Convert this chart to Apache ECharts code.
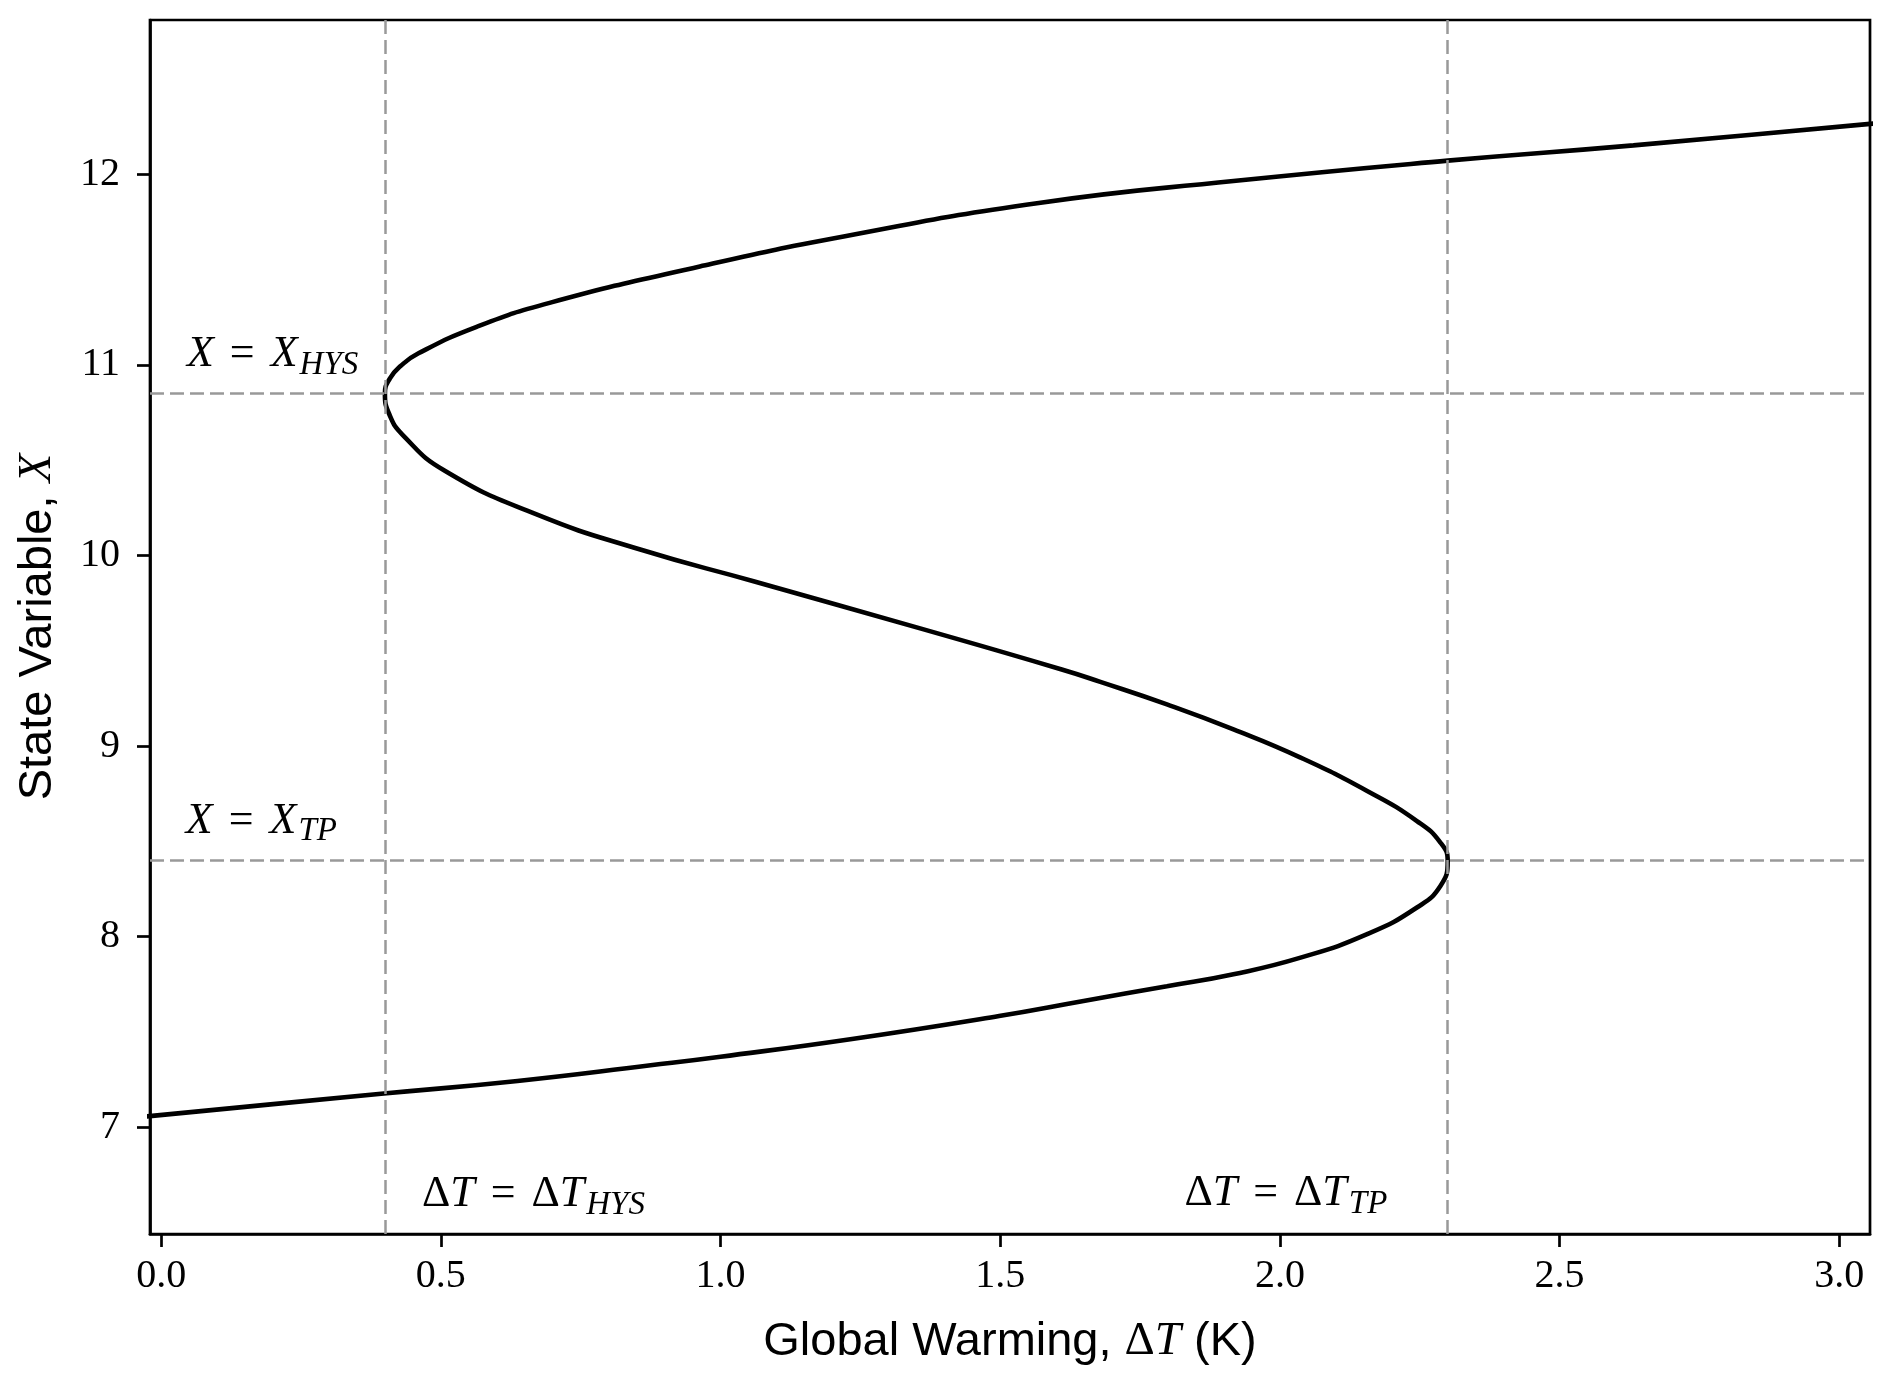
<!DOCTYPE html>
<html>
<head>
<meta charset="utf-8">
<style>
  html, body { margin: 0; padding: 0; background: #fff; }
  #main { width: 1892px; height: 1385px; }
</style>
<script src="https://cdn.jsdelivr.net/npm/echarts@6/dist/echarts.min.js"></script>
</head>
<body>
<div id="main"></div>
<script>
// curve, in order along the fold: global warming (K) and state variable X
var dT = [-0.05, -0.016, 0.398, 0.637, 0.875, 1.0, 1.232, 1.498, 1.649, 1.798, 1.917, 2.037, 2.156, 2.245, 2.287, 2.30,
  2.287, 2.245, 2.156, 2.037, 1.917, 1.798, 1.679, 1.61, 1.36, 1.059, 0.858, 0.67, 0.507, 0.432, 0.408, 0.40,
  0.409, 0.428, 0.46, 0.564, 0.696, 0.963, 1.2225, 1.569, 1.917, 2.3, 2.632, 3.055, 3.1];
var stateX = [7.05, 7.06, 7.177, 7.243, 7.325, 7.37, 7.462, 7.584, 7.663, 7.74, 7.803, 7.89, 8.013, 8.153, 8.266, 8.397,
  8.494, 8.607, 8.765, 8.94, 9.088, 9.219, 9.337, 9.402, 9.615, 9.865, 10.03, 10.217, 10.445, 10.632, 10.74, 10.85,
  10.93, 10.994, 11.061, 11.2, 11.327, 11.517, 11.675, 11.85, 11.965, 12.072, 12.152, 12.265, 12.277];

// dashed guides
var dTMarks = [0.4, 2.3];
var xMarks = [10.85, 8.4];

// tick labels
var xTicks = [0, 0.5, 1, 1.5, 2, 2.5, 3];
var yTicks = [7, 8, 9, 10, 11, 12];

// annotations (anchor on the baseline, in data units)
var annoLabels = [
  '{mi|X}{eq|=}{mi|X}{sub|HYS}',
  '{mi|X}{eq|=}{mi|X}{sub|TP}',
  '{rm|Δ}{mi|T}{eq|=}{rm|Δ}{mi|T}{sub|HYS}',
  '{rm|Δ}{mi|T}{eq|=}{rm|Δ}{mi|T}{sub|TP}'
];
var annoPos = [[0.047, 10.977], [0.045, 8.53], [0.467, 6.57], [2.193, 6.575]];
var annoAlign = ["left", "left", "left", "right"];

(function() {
  var myChart = echarts.init(document.getElementById("main"));

  var serif = "Liberation Serif";
  var sans = "Liberation Sans";

  // math-ish text styles
  var mathRich = {
    mi: { fontFamily: serif, fontStyle: "italic", fontSize: 44, color: "#000", lineHeight: 54 },
    rm: { fontFamily: serif, fontSize: 44, color: "#000", lineHeight: 54 },
    eq: { fontFamily: serif, fontSize: 44, color: "#000", lineHeight: 54, padding: [0, 16] },
    sub: { fontFamily: serif, fontStyle: "italic", fontSize: 33, color: "#000", lineHeight: 36, verticalAlign: "bottom", padding: [0, 0, 0, 2] }
  };
  var nameRich = {
    t: { fontFamily: sans, fontSize: 47, color: "#000", lineHeight: 56 },
    rm: { fontFamily: serif, fontSize: 47, color: "#000", lineHeight: 56 },
    mi: { fontFamily: serif, fontStyle: "italic", fontSize: 47, color: "#000", lineHeight: 56 }
  };

  var curve = dT.map(function(v, i) { return [v, stateX[i]]; });
  var guides = dTMarks.map(function(v) { return { xAxis: v }; })
    .concat(xMarks.map(function(v) { return { yAxis: v }; }));
  var annos = annoPos.map(function(p, i) {
    return { value: p, label: { formatter: annoLabels[i], align: annoAlign[i] } };
  });

  var axisLine = { show: true, onZero: false, lineStyle: { color: "#000", width: 2.7 } };

  var option = {
    animation: false,
    backgroundColor: "#fff",
    grid: {
      left: 150, right: 22, top: 20, bottom: 151,
      show: true, borderColor: "#000", borderWidth: 2.7
    },
    xAxis: {
      type: "value",
      min: -0.02,
      max: 3.055,
      name: "{t|Global Warming, }{rm|Δ}{mi|T}{t| (K)}",
      nameLocation: "middle",
      nameGap: 80,
      nameTextStyle: { rich: nameRich },
      axisLine: axisLine,
      axisTick: { show: true, length: 13, customValues: xTicks, lineStyle: { color: "#000", width: 2.7 } },
      axisLabel: {
        customValues: xTicks,
        formatter: function(v) { return v.toFixed(1); },
        fontFamily: serif, fontSize: 40, color: "#000", margin: 22
      },
      splitLine: { show: false }
    },
    yAxis: {
      type: "value",
      min: 6.44,
      max: 12.81,
      name: "{t|State Variable, }{mi|X}",
      nameLocation: "middle",
      nameGap: 84,
      nameTextStyle: { rich: nameRich },
      axisLine: axisLine,
      axisTick: { show: true, length: 13, customValues: yTicks, lineStyle: { color: "#000", width: 2.7 } },
      axisLabel: {
        customValues: yTicks,
        formatter: function(v) { return String(v); },
        fontFamily: serif, fontSize: 40, color: "#000", margin: 30
      },
      splitLine: { show: false }
    },
    series: [
      {
        name: "fold",
        type: "line",
        data: curve,
        smooth: 0.5,
        smoothConstraint: false,
        showSymbol: false,
        lineStyle: { color: "#000", width: 4.6 },
        markLine: {
          silent: true,
          symbol: "none",
          label: { show: false },
          lineStyle: { color: "#999", width: 2.5, type: [14, 6] },
          data: guides
        }
      },
      {
        name: "notes",
        type: "scatter",
        data: annos,
        symbolSize: 1,
        silent: true,
        itemStyle: { color: "rgba(255,255,255,0)" },
        label: {
          show: true,
          color: "#000",
          opacity: 1,
          position: [0, 0],
          verticalAlign: "bottom",
          offset: [0, 13],
          rich: mathRich
        }
      }
    ]
  };

  myChart.setOption(option);
  window.addEventListener("resize", function() {
    myChart.resize();
  });
})();
</script>
</body>
</html>
